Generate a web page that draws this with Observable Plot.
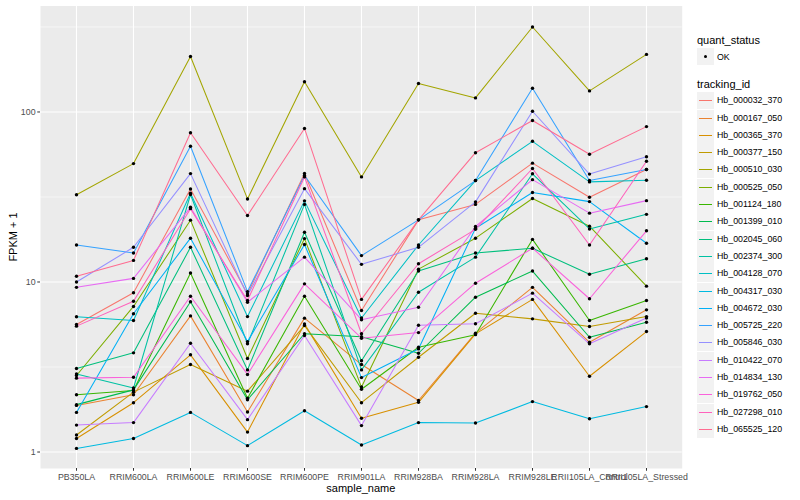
<!DOCTYPE html>
<html><head><meta charset="utf-8">
<script src="https://cdn.jsdelivr.net/npm/d3@7"></script>
<script src="https://cdn.jsdelivr.net/npm/@observablehq/plot@0.6"></script>
<style>
body{margin:0;background:#fff;font-family:"Liberation Sans",Arial,Helvetica,sans-serif;}
#wrap{position:relative;width:800px;height:500px;overflow:hidden;}
#chart{position:absolute;left:0;top:0;}
.ttl{position:absolute;font-size:11px;color:#000;white-space:nowrap;}
.lg{position:absolute;font-size:8.8px;color:#000;white-space:nowrap;}
.key{position:absolute;width:17px;height:17px;background:#F2F2F2;}
</style></head><body>
<div id="wrap"><div id="chart"></div></div>
<script>
const samples = ["PB350LA","RRIM600LA","RRIM600LE","RRIM600SE","RRIM600PE","RRIM901LA","RRIM928BA","RRIM928LA","RRIM928LE","RRII105LA_Control","RRII105LA_Stressed"];
const trackingIds = ["Hb_000032_370","Hb_000167_050","Hb_000365_370","Hb_000377_150","Hb_000510_030","Hb_000525_050","Hb_001124_180","Hb_001399_010","Hb_002045_060","Hb_002374_300","Hb_004128_070","Hb_004317_030","Hb_004672_030","Hb_005725_220","Hb_005846_030","Hb_010422_070","Hb_014834_130","Hb_019762_050","Hb_027298_010","Hb_065525_120"];
const colors = ["#F8766D","#EA8331","#D89000","#C09B00","#A3A500","#7CAE00","#39B600","#00BB4E","#00BF7D","#00C1A3","#00BFC4","#00BAE0","#00B0F6","#35A2FF","#9590FF","#C77CFF","#E76BF3","#FA62DB","#FF62BC","#FF6C91"];
const quantStatus = ["OK"];

// FPKM + 1 per sample, one array per tracking_id
const hb_000032_370 = [5.62, 8.65, 35.2, 8.51, 43.5, 6.8, 23.2, 28.6, 50, 31.5, 45.9];
const hb_000167_050 = [1.88, 2.17, 6.32, 1.72, 6.13, 3.27, 2.01, 5.0, 9.3, 4.42, 6.86];
const hb_000365_370 = [1.2, 1.95, 3.73, 1.31, 5.67, 1.58, 1.96, 4.95, 7.9, 2.79, 5.11];
const hb_000377_150 = [1.26, 2.25, 3.27, 2.28, 5.54, 1.95, 3.61, 6.55, 6.07, 5.47, 6.26];
const hb_000510_030 = [32.6, 49.7, 212, 30.8, 150.7, 41.5, 147, 121, 316, 133, 218];
const hb_000525_050 = [2.82, 7.18, 23.1, 3.55, 18.0, 2.41, 11.9, 18.1, 31, 21.3, 9.45];
const hb_001124_180 = [2.17, 2.30, 11.3, 2.07, 8.24, 2.34, 4.13, 4.9, 17.8, 5.94, 7.78];
const hb_001399_010 = [1.9, 2.32, 7.65, 2.03, 4.96, 4.77, 3.81, 8.14, 11.6, 4.73, 5.8];
const hb_002045_060 = [3.1, 3.83, 16.0, 3.04, 19.6, 3.44, 11.6, 14.8, 15.8, 11.1, 13.7];
const hb_002374_300 = [2.88, 2.38, 32.7, 4.33, 28.6, 3.04, 8.7, 14.0, 43.3, 20.5, 25.0];
const hb_004128_070 = [6.24, 5.94, 33.3, 6.26, 30.0, 6.14, 16.5, 39.5, 67.2, 38.8, 39.7];
const hb_004317_030 = [1.05, 1.2, 1.71, 1.09, 1.75, 1.10, 1.49, 1.48, 1.98, 1.57, 1.85];
const hb_004672_030 = [1.71, 6.5, 18.1, 4.46, 16.6, 2.74, 4.04, 20.7, 33.6, 29.7, 16.9];
const hb_005725_220 = [16.5, 14.8, 62.9, 8.78, 42.3, 14.3, 23.2, 39.5, 138, 39.5, 45.9];
const hb_005846_030 = [10, 16.0, 43.4, 8.33, 35.4, 12.7, 16.0, 29.6, 101, 43.1, 54.5];
const hb_010422_070 = [1.44, 1.49, 4.36, 1.55, 4.85, 1.43, 5.57, 5.68, 8.6, 4.33, 6.14];
const hb_014834_130 = [9.3, 10.5, 27.5, 7.6, 14.0, 6.0, 7.1, 21.2, 40, 25.4, 30.1];
const hb_019762_050 = [2.72, 2.75, 8.25, 2.86, 9.75, 4.67, 5.04, 9.84, 15.8, 7.97, 20.0];
const hb_027298_010 = [5.5, 7.7, 27.0, 7.78, 41.5, 4.96, 12.8, 20.4, 46.5, 16.5, 51.3];
const hb_065525_120 = [10.8, 13.4, 75.4, 24.6, 80, 7.9, 23.2, 57.6, 89, 56.4, 82];

const yMajor = [1, 10, 100];
const yMinor = [3.1623, 31.623, 316.23];

const seriesValues = [hb_000032_370, hb_000167_050, hb_000365_370, hb_000377_150, hb_000510_030, hb_000525_050, hb_001124_180, hb_001399_010, hb_002045_060, hb_002374_300, hb_004128_070, hb_004317_030, hb_004672_030, hb_005725_220, hb_005846_030, hb_010422_070, hb_014834_130, hb_019762_050, hb_027298_010, hb_065525_120];

const rows = [];
seriesValues.forEach((vals, i) => vals.forEach((v, j) => rows.push({id: trackingIds[i], sample: samples[j], value: v, status: quantStatus[0]})));

const W = 690, H = 500, mL = 40, mR = 8.3, mT = 5.5, mB = 32;
const plot = Plot.plot({
  width: W, height: H,
  marginLeft: mL, marginRight: mR, marginTop: mT, marginBottom: mB,
  style: {fontFamily: '"Liberation Sans",Arial,Helvetica,sans-serif', fontSize: "8.8px", color: "#4D4D4D", background: "transparent", overflow: "visible"},
  x: {type: "point", domain: samples, padding: 0.6, label: null},
  y: {type: "log", domain: [0.8, 420], label: null},
  color: {domain: trackingIds, range: colors},
  marks: [
    Plot.frame({fill: "#EBEBEB", stroke: null}),
    Plot.ruleY(yMinor, {stroke: "#FFFFFF", strokeWidth: 0.55}),
    Plot.ruleY(yMajor, {stroke: "#FFFFFF", strokeWidth: 1.1}),
    Plot.ruleX(samples, {stroke: "#FFFFFF", strokeWidth: 1.1}),
    Plot.line(rows, {x: "sample", y: "value", z: "id", stroke: "id", strokeWidth: 1.05}),
    Plot.dot(rows, {x: "sample", y: "value", fill: "#000", stroke: null, r: 1.7}),
    Plot.axisY({ticks: yMajor, tickFormat: d => String(d), tickSize: 2.75, tickPadding: 2.2, stroke: "#333333", fill: "#4D4D4D", fontSize: 8.8, label: null}),
    Plot.axisX({tickSize: 2.75, tickPadding: 2.2, stroke: "#333333", fill: "#4D4D4D", fontSize: 8.8, label: null})
  ]
});
const wrap = document.getElementById("wrap");
document.getElementById("chart").appendChild(plot);

function addDiv(cls, text, css) {
  const d = document.createElement("div");
  d.className = cls;
  if (text != null) d.textContent = text;
  Object.assign(d.style, css);
  wrap.appendChild(d);
  return d;
}
// axis titles
addDiv("ttl", "sample_name", {left: ((mL + W - mR) / 2) + "px", top: "482px", transform: "translateX(-50%)"});
addDiv("ttl", "FPKM + 1", {left: "13px", top: ((mT + H - mB) / 2) + "px", transform: "translate(-50%,-50%) rotate(-90deg)"});

// legends
const lgX = 697;
addDiv("ttl", "quant_status", {left: lgX + "px", top: "34px"});
const k0 = addDiv("key", null, {left: lgX + "px", top: "48px"});
const dot = document.createElement("div");
Object.assign(dot.style, {position: "absolute", left: "7px", top: "7px", width: "3.4px", height: "3.4px", borderRadius: "50%", background: "#000"});
k0.appendChild(dot);
quantStatus.forEach((q, i) => addDiv("lg", q, {left: (lgX + 20) + "px", top: (51.5 + i * 17.3) + "px"}));

addDiv("ttl", "tracking_id", {left: lgX + "px", top: "77.5px"});
trackingIds.forEach((id, i) => {
  const cy = 100.7 + i * 17.3;
  const top = Math.round(cy - 8.5);
  const k = addDiv("key", null, {left: lgX + "px", top: top + "px"});
  const ln = document.createElement("div");
  Object.assign(ln.style, {position: "absolute", left: "2px", top: "8px", width: "13px", height: "1px", background: colors[i]});
  k.appendChild(ln);
  addDiv("lg", id, {left: (lgX + 20) + "px", top: (top + 3.2) + "px"});
});
</script>
</body></html>
